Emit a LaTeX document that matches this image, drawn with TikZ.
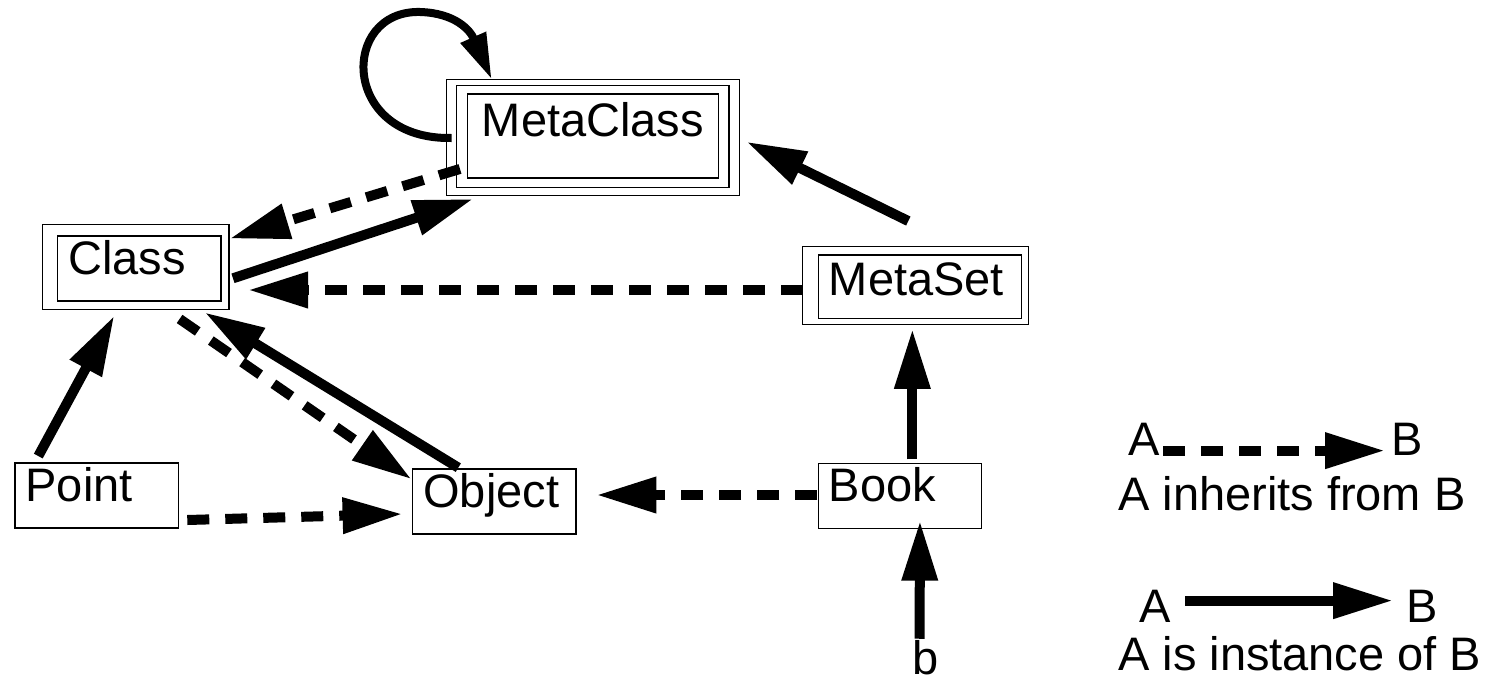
\documentclass[tikz,border=0pt]{standalone}
\usepackage{fontspec}
\setmainfont{Liberation Sans}
\usetikzlibrary{arrows.meta}

\tikzset{
  box/.style={draw,line width=1.3pt,inner xsep=10.7pt,inner ysep=4pt,
    text width=142pt,text height=34pt,text depth=23pt,align=left,anchor=base west},
  frame/.style={line width=1.3pt},
  isa/.style={line width=10pt,-{Triangle[length=60pt,width=34pt]}},
  inherits/.style={isa,dash pattern=on 22pt off 16pt},
  lbl/.style={inner sep=0pt,anchor=base west}
}

\begin{document}
\begin{tikzpicture}[x=1pt,y=-1pt,font=\fontsize{47}{56}\selectfont]
\useasboundingbox (0,0) rectangle (1503,682);

% classes
\node[box,inner xsep=14.5pt,text width=222pt,text height=38.7pt,text depth=37.3pt] (metaclass) at (466.7,136.7) {MetaClass};
\node[box] (class) at (57,274) {Class};
\node[box,text width=182pt,text height=36pt,text depth=19.3pt] (metaset) at (817.5,295) {MetaSet};
\node[box] (point) at (14.3,501) {Point};
\node[box] (object) at (412,507) {Object};
\node[box] (book) at (817.5,501.7) {Book};
\node[lbl] (b) at (912,674) {b};

% extra frames round the meta classes
\draw[frame] ([shift={(-10,-8)}]metaclass.north west) rectangle ([shift={(10,9)}]metaclass.south east);
\draw[frame] ([shift={(-20,-14)}]metaclass.north west) rectangle ([shift={(20.3,17)}]metaclass.south east);
\draw[frame] ([shift={(-14.3,-11)}]class.north west) rectangle ([shift={(7.3,8)}]class.south east);
\draw[frame] ([shift={(-14.8,-7.7)}]metaset.north west) rectangle ([shift={(6.4,5.7)}]metaset.south east);

% instance of
\draw[isa,line width=8pt,-{Triangle[length=46pt,width=26pt]}] ([shift={(-15,2)}]metaclass.west) .. controls (340,140) and (340,10) .. (420,12) .. controls (455,13) and (470,30) .. ([shift={(25,-14)}]metaclass.north west);
\draw[isa] ([shift={(11.3,9.8)}]class.east) -- ([shift={(6.6,20.3)}]metaclass.south west);
\draw[isa] ([shift={(90.8,-33.3)}]metaset.north west) -- ([shift={(27.3,5.7)}]metaclass.east);
\draw[isa] ([shift={(46.3,-0.7)}]object.north west) -- ([shift={(-17.1,10.7)}]class.south east);
\draw[isa] ([shift={(24,-6.3)}]point.north west) -- ([shift={(57.3,14)}]class.south west);
\draw[isa] ([shift={(12.5,-3.7)}]book.north) -- ([shift={(-7.5,10)}]metaset.south);
\draw[isa] ([shift={(-5.7,-1)}]b.north) -- ([shift={(20.1,-8.7)}]book.south);

% inherits from
\draw[inherits] ([shift={(-6.7,-9.7)}]metaclass.south west) -- ([shift={(7.9,3.3)}]class.north east);
\draw[inherits] ([shift={(-14.8,3.35)}]metaset.west) -- ([shift={(26.3,21.5)}]class.east);
\draw[inherits] ([shift={(-42.1,17.3)}]class.south east) -- ([shift={(-0.3,11)}]object.north west);
\draw[inherits] ([shift={(8.3,24.5)}]point.east) -- ([shift={(-9.4,12.5)}]object.west);
\draw[inherits] ([shift={(-0.5,-1.2)}]book.west) -- ([shift={(19.6,-6.5)}]object.east);

% legend
\node[lbl] (a1) at (1128,455) {A};
\node[lbl] (b1) at (1391.5,455) {B};
\node[lbl] (t1) at (1118,510) {A inherits from B};
\node[lbl] (a2) at (1139,622) {A};
\node[lbl] (b2) at (1406.5,622) {B};
\node[lbl] (t2) at (1118,670) {A is instance of B};
\draw[inherits] ([shift={(3.7,11.8)}]a1.east) -- ([shift={(-6.5,11.8)}]b1.west);
\draw[isa] ([shift={(14.7,-5.2)}]a2.east) -- ([shift={(-13.5,-5.2)}]b2.west);
\end{tikzpicture}
\end{document}
